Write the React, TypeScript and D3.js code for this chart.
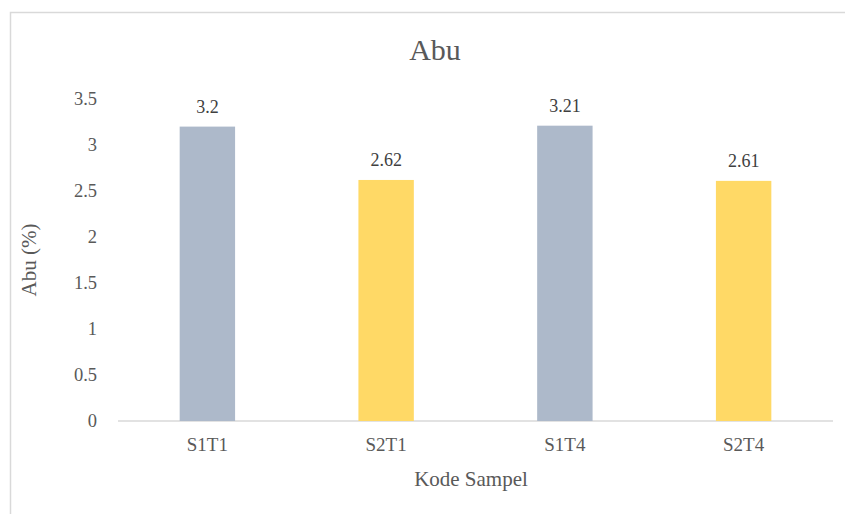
import React from "react";
import * as d3 from "d3";

const categories = ["S1T1", "S2T1", "S1T4", "S2T4"];
const values = [3.2, 2.62, 3.21, 2.61];
const labels = ["3.2", "2.62", "3.21", "2.61"];
const colors = ["#ADB9CA", "#FFD966", "#ADB9CA", "#FFD966"];
const yTicks = [0, 0.5, 1, 1.5, 2, 2.5, 3, 3.5];

export default function App() {
  const W = 845, H = 514;
  const left = 118, right = 833, top = 99, bottom = 421;
  const x = d3.scaleBand<string>().domain(categories).range([left, right]).padding(0);
  const y = d3.scaleLinear().domain([0, 3.5]).range([bottom, top]);
  const bw = x.bandwidth() * 0.31;
  const font = "Liberation Serif, Times New Roman, serif";
  return (
    <svg width={W} height={H} style={{ position: "absolute", left: 0, top: 0, fontFamily: font }}>
      <rect x={0} y={0} width={W} height={H} fill="#fff" />
      <rect x={10.5} y={12.5} width={W} height={H} fill="none" stroke="#D9D9D9" strokeWidth={1.5} />
      <text x={435} y={60} textAnchor="middle" fontSize={30} fill="#595959" style={{ fontFamily: font }}>Abu</text>
      {yTicks.map((t) => (
        <text key={t} x={97} y={y(t)} dy="0.35em" textAnchor="end" fontSize={18.5} fill="#595959" style={{ fontFamily: font }}>{t}</text>
      ))}
      <line x1={left} x2={right} y1={bottom} y2={bottom} stroke="#D9D9D9" strokeWidth={1.5} />
      {categories.map((c, i) => {
        const cx = x(c)! + x.bandwidth() / 2;
        return (
          <g key={c}>
            <rect x={cx - bw / 2} y={y(values[i])} width={bw} height={bottom - y(values[i])} fill={colors[i]} />
            <text x={cx} y={y(values[i]) - 14} textAnchor="middle" fontSize={18} fill="#404040" style={{ fontFamily: font }}>{labels[i]}</text>
            <text x={cx} y={bottom + 30} textAnchor="middle" fontSize={19} fill="#595959" style={{ fontFamily: font }}>{c}</text>
          </g>
        );
      })}
      <text x={471} y={486} textAnchor="middle" fontSize={21} fill="#595959" style={{ fontFamily: font }}>Kode Sampel</text>
      <text transform={`translate(36,260) rotate(-90)`} textAnchor="middle" fontSize={21} fill="#595959" style={{ fontFamily: font }}>Abu (%)</text>
    </svg>
  );
}
